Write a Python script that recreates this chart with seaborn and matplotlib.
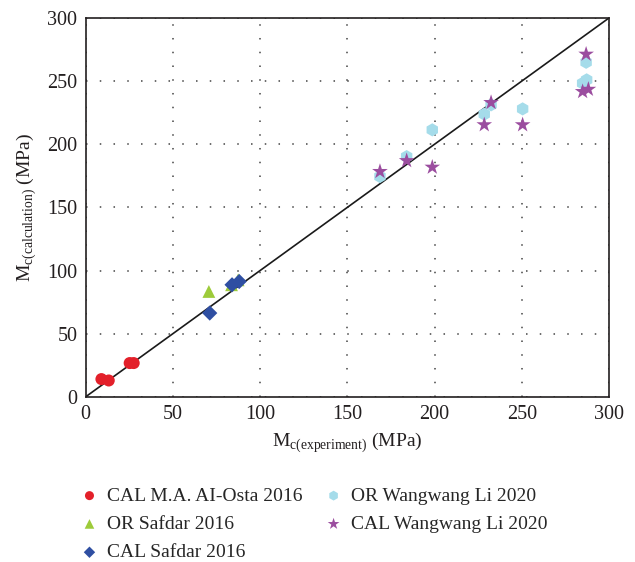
import matplotlib
matplotlib.use("Agg")
import matplotlib.pyplot as plt
import numpy as np
import pandas as pd
import seaborn as sns

# CAL M.A. AI-Osta 2016
osta_x = [9.0, 13.2, 25.2, 27.5]
osta_y = [14.0, 12.9, 26.7, 26.7]

# OR Safdar 2016
safdar_or_x = [70.6, 83.6, 87.4]
safdar_or_y = [83.4, 88.7, 92.6]

# CAL Safdar 2016
safdar_cal_x = [71.1, 83.9, 88.0]
safdar_cal_y = [66.3, 88.7, 91.3]

# OR Wangwang Li 2020
li_or_x = [168.7, 184.0, 198.7, 228.5, 232.4, 250.5, 286.9, 284.9, 287.2]
li_or_y = [174.4, 190.2, 211.4, 223.8, 231.2, 228.0, 264.9, 248.3, 251.0]

# CAL Wangwang Li 2020
li_cal_x = [168.7, 184.0, 198.7, 232.4, 228.5, 250.5, 286.9, 284.9, 288.2]
li_cal_y = [178.4, 187.0, 181.8, 233.0, 215.4, 215.4, 271.3, 241.7, 243.5]

series = [
  ("CAL M.A. AI-Osta 2016", osta_x, osta_y, "#e3202a", "o", 75),
  ("OR Safdar 2016", safdar_or_x, safdar_or_y, "#9dcb3a", "^", 85),
  ("CAL Safdar 2016", safdar_cal_x, safdar_cal_y, "#2f4fa2", "D", 60),
  ("OR Wangwang Li 2020", li_or_x, li_or_y, "#a5dcea", "h", 90),
  ("CAL Wangwang Li 2020", li_cal_x, li_cal_y, "#9b4d9f", "*", 140),
]

sns.set_style("white")
plt.rcParams["font.family"] = ["Liberation Serif", "DejaVu Serif"]
plt.rcParams["mathtext.fontset"] = "custom"
plt.rcParams["mathtext.rm"] = "Liberation Serif"

fig = plt.figure(figsize=(6.35, 5.62), dpi=100)
ax = fig.add_axes([0.135, 0.294, 0.824, 0.674])

for label, xs, ys, color, marker, size in series:
  df = pd.DataFrame({"x": xs, "y": ys})
  sns.scatterplot(
    data=df, x="x", y="y", ax=ax, color=color, marker=marker, s=size,
    edgecolor="none", label=label, zorder=3,
  )

ax.plot([0, 300], [0, 300], color="#1a1a1a", lw=1.2, zorder=2)

ax.set_xlim(0, 300)
ax.set_ylim(0, 300)
ax.set_xticks(np.arange(0, 301, 50))
ax.set_yticks(np.arange(0, 301, 50))
ax.tick_params(length=0, labelsize=14.5, pad=6, colors="#231f20")
ax.grid(True, color="#444444", linestyle=(0, (1, 8)), lw=1.1)
for sp in ax.spines.values():
  sp.set_color("#231f20")
  sp.set_linewidth(1.2)

ax.set_xlabel(r"M$_\mathregular{c(experiment)}$ (MPa)", fontsize=14, color="#231f20", labelpad=5)
ax.set_ylabel(r"M$_\mathregular{c(calculation)}$ (MPa)", fontsize=14, color="#231f20", labelpad=6)

ax.legend(
  loc="upper left", bbox_to_anchor=(-0.03, -0.218), ncol=2, frameon=False,
  fontsize=14, handletextpad=0.3, columnspacing=1.0, labelspacing=0.55,
  markerscale=0.75, handlelength=1.2, borderaxespad=0,
)

fig.savefig("out.png", dpi=100)
